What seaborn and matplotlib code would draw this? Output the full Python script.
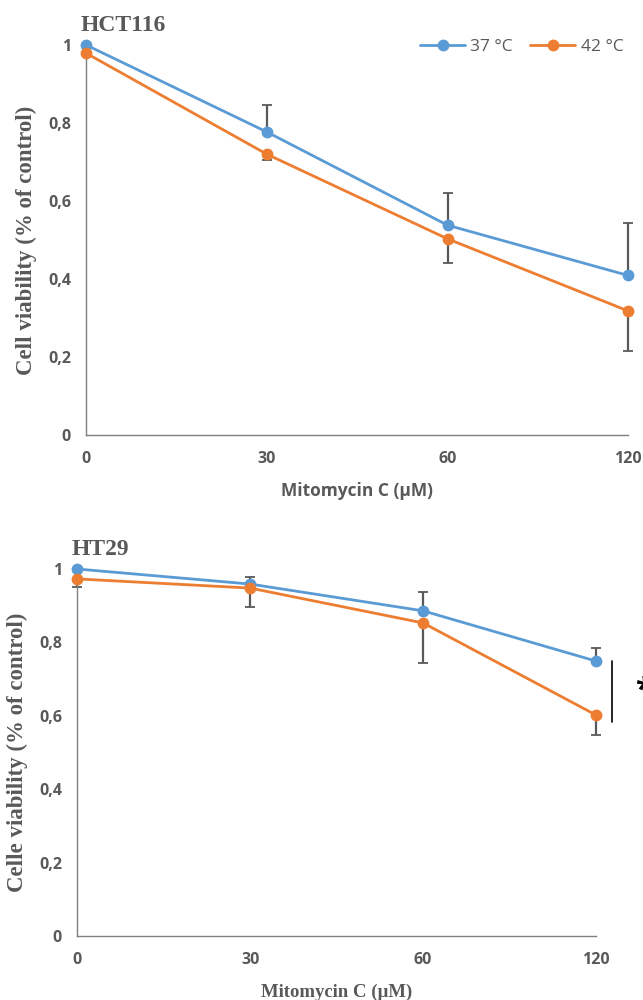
import matplotlib
matplotlib.use("Agg")
import matplotlib.pyplot as plt
import seaborn as sns
import pandas as pd
import numpy as np

# Doses (categorical, equally spaced on the axis)
doses = ["0", "30", "60", "120"]
temps = ["37 °C", "42 °C"]

# HCT116 viability (fraction of control)
hct_37 = [1.00, 0.777, 0.538, 0.409]
hct_42 = [0.979, 0.720, 0.503, 0.318]
hct_37_err_up = [0.0, 0.069, 0.082, 0.135]
hct_42_err_down = [0.0, 0.015, 0.062, 0.103]

# HT29 viability (fraction of control)
ht_37 = [1.00, 0.959, 0.886, 0.749]
ht_42 = [0.973, 0.948, 0.853, 0.602]
ht_37_err_up = [0.0, 0.019, 0.051, 0.036]
ht_42_err_down = [0.022, 0.052, 0.109, 0.054]

yticks = [0, 0.2, 0.4, 0.6, 0.8, 1.0]
ytick_labels = ["0", "0,2", "0,4", "0,6", "0,8", "1"]

blue = "#5B9BD5"
orange = "#ED7D31"
grey = "#595959"

sns.set_theme(style="white")
plt.rcParams["font.family"] = ["Open Sans", "DejaVu Sans"]

fig = plt.figure(figsize=(6.43, 10.0), dpi=100)
ax1 = fig.add_axes([0.134, 0.565, 0.843, 0.390])
ax2 = fig.add_axes([0.120, 0.064, 0.807, 0.367])


def make_frame(v37, v42):
    pos = np.arange(len(doses))
    return pd.DataFrame({
        "pos": np.concatenate([pos, pos]),
        "viability": np.concatenate([v37, v42]),
        "temp": [temps[0]] * len(doses) + [temps[1]] * len(doses),
    })


def draw_panel(ax, v37, v42, up37, down42, title, ylabel, xlabel, serif_xlabel, legend):
    df = make_frame(v37, v42)
    pos = np.arange(len(doses))
    # error bars first, so the markers sit on top
    ax.errorbar(pos, v37, yerr=[np.zeros(len(up37)), up37], fmt="none",
                ecolor=grey, elinewidth=1.6, capsize=3.5, capthick=1.3, zorder=1)
    ax.errorbar(pos, v42, yerr=[down42, np.zeros(len(down42))], fmt="none",
                ecolor=grey, elinewidth=1.6, capsize=3.5, capthick=1.3, zorder=1)
    sns.lineplot(data=df, x="pos", y="viability", hue="temp",
                 palette=[blue, orange], marker="o", markersize=8.5,
                 markeredgewidth=0, linewidth=2.0, ax=ax, legend=legend,
                 zorder=3)
    ax.set_xlim(0, len(doses) - 1)
    ax.set_ylim(0, 1.0)
    ax.set_xticks(pos)
    ax.set_xticklabels(doses)
    ax.set_yticks(yticks)
    ax.set_yticklabels(ytick_labels)
    for sp in ["top", "right"]:
        ax.spines[sp].set_visible(False)
    for sp in ["left", "bottom"]:
        ax.spines[sp].set_color("#7f7f7f")
        ax.spines[sp].set_linewidth(1.0)
    ax.tick_params(axis="x", direction="inout", length=9, width=1.0,
                   color="#7f7f7f", labelcolor=grey, labelsize=11.5, pad=7)
    ax.tick_params(axis="y", direction="out", length=5, width=1.0,
                   color="#7f7f7f", labelcolor=grey, labelsize=11.5, pad=6)
    for lab in ax.get_xticklabels() + ax.get_yticklabels():
        lab.set_fontweight("bold")
    ax.set_ylabel(ylabel, family="Liberation Serif", fontweight="bold",
                  fontsize=16.5, color=grey, labelpad=8)
    if serif_xlabel:
        ax.set_xlabel(xlabel, family="Liberation Serif", fontweight="bold",
                      fontsize=13.5, color=grey, labelpad=11)
    else:
        ax.set_xlabel(xlabel, fontweight="bold", fontsize=12.5,
                      color=grey, labelpad=11)
    ax.set_title(title, family="Liberation Serif", fontweight="bold",
                 fontsize=17, color=grey, loc="left", x=-0.01, pad=10)
    for art in ax.lines + ax.collections:
        art.set_clip_on(False)


draw_panel(ax1, hct_37, hct_42, hct_37_err_up, hct_42_err_down,
           "HCT116", "Cell viability (% of control)", "Mitomycin C (µM)",
           False, True)
leg = ax1.legend(loc="upper right", bbox_to_anchor=(1.02, 1.055), ncol=2,
                 frameon=False, fontsize=12.5, handlelength=2.6,
                 columnspacing=1.0, handletextpad=0.3)
for t in leg.get_texts():
    t.set_color(grey)

draw_panel(ax2, ht_37, ht_42, ht_37_err_up, ht_42_err_down,
           "HT29", "Celle viability (% of control)", "Mitomycin C (µM)",
           True, False)

# significance bracket at the highest dose
ax2.plot([3.09, 3.09], [0.749, 0.583], color="black", linewidth=1.2,
         clip_on=False)
ax2.text(3.225, 0.67, "*", fontsize=22, fontweight="bold", color="black",
         ha="left", va="center", clip_on=False)

fig.savefig("out.png", dpi=100)
